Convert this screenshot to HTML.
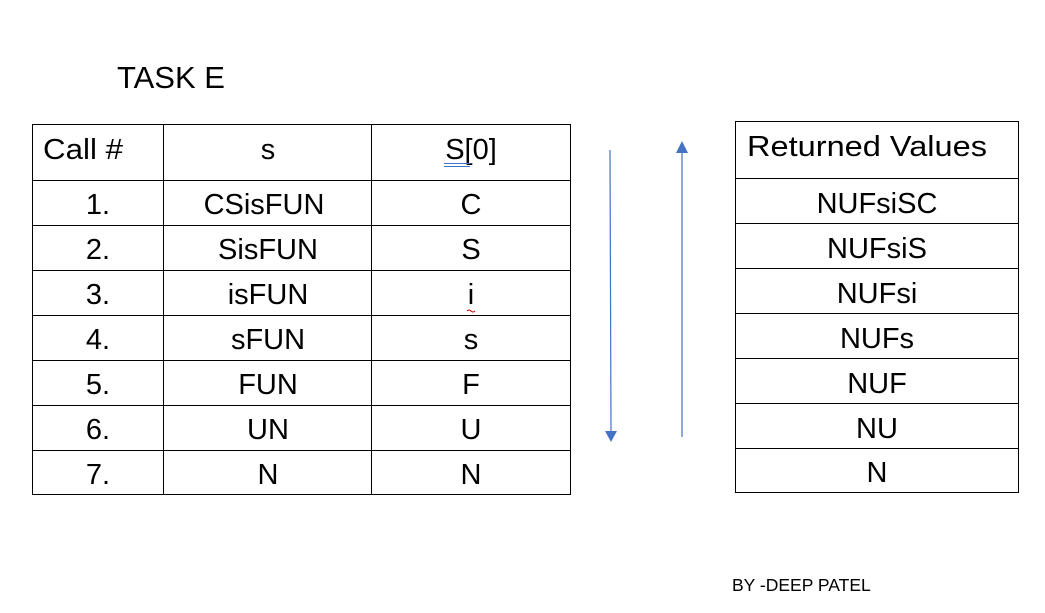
<!DOCTYPE html>
<html><head><style>
body{margin:0;width:1045px;height:613px;background:#fff;position:relative;overflow:hidden;font-family:"Liberation Sans",sans-serif;}
</style></head><body>
<svg width="1045" height="613" style="position:absolute;left:0;top:0" font-family="Liberation Sans, sans-serif">
<g stroke="#000" stroke-width="1" fill="none">
<rect x="32.5" y="124.5" width="538" height="370"/>
<line x1="163.5" y1="124" x2="163.5" y2="495"/>
<line x1="371.5" y1="124" x2="371.5" y2="495"/>
<line x1="32" y1="180.5" x2="571" y2="180.5"/>
<line x1="32" y1="225.5" x2="571" y2="225.5"/>
<line x1="32" y1="270.5" x2="571" y2="270.5"/>
<line x1="32" y1="315.5" x2="571" y2="315.5"/>
<line x1="32" y1="360.5" x2="571" y2="360.5"/>
<line x1="32" y1="405.5" x2="571" y2="405.5"/>
<line x1="32" y1="450.5" x2="571" y2="450.5"/>
<rect x="735.5" y="121.5" width="283" height="371"/>
<line x1="735" y1="178.5" x2="1019" y2="178.5"/>
<line x1="735" y1="223.5" x2="1019" y2="223.5"/>
<line x1="735" y1="268.5" x2="1019" y2="268.5"/>
<line x1="735" y1="313.5" x2="1019" y2="313.5"/>
<line x1="735" y1="358.5" x2="1019" y2="358.5"/>
<line x1="735" y1="403.5" x2="1019" y2="403.5"/>
<line x1="735" y1="448.5" x2="1019" y2="448.5"/>
</g>
<g stroke="#4472c4" stroke-width="1.2" fill="#4472c4">
<line x1="610" y1="150" x2="611" y2="432"/>
<polygon points="605,431 617,431 611,442" stroke="none"/>
<line x1="682" y1="152" x2="682" y2="437"/>
<polygon points="676,153 688,153 682,141" stroke="none"/>
</g>
<g font-size="29" fill="#000" text-anchor="middle">
<text x="117" y="88" text-anchor="start" font-size="31">TASK E</text>
<text x="43" y="159" text-anchor="start" textLength="80" lengthAdjust="spacingAndGlyphs">Call #</text>
<text x="268" y="159">s</text>
<text x="471" y="159">S[0]</text>
<text x="98" y="214">1.</text><text x="264" y="214">CSisFUN</text><text x="471" y="214">C</text>
<text x="98" y="259">2.</text><text x="268" y="259">SisFUN</text><text x="471" y="259">S</text>
<text x="98" y="304">3.</text><text x="268" y="304">isFUN</text><text x="471" y="304">i</text>
<text x="98" y="349">4.</text><text x="268" y="349">sFUN</text><text x="471" y="349">s</text>
<text x="98" y="394">5.</text><text x="268" y="394">FUN</text><text x="471" y="394">F</text>
<text x="98" y="439">6.</text><text x="268" y="439">UN</text><text x="471" y="439">U</text>
<text x="98" y="484">7.</text><text x="268" y="484">N</text><text x="471" y="484">N</text>
<text x="747" y="156" text-anchor="start" textLength="240" lengthAdjust="spacingAndGlyphs">Returned Values</text>
<text x="877" y="213">NUFsiSC</text>
<text x="877" y="258">NUFsiS</text>
<text x="877" y="303">NUFsi</text>
<text x="877" y="348">NUFs</text>
<text x="877" y="393">NUF</text>
<text x="877" y="438">NU</text>
<text x="877" y="482">N</text>
<text x="732" y="591" text-anchor="start" font-size="17.5">BY -DEEP PATEL</text>
</g>
<g stroke="#4472c4" stroke-width="1">
<line x1="444" y1="163.5" x2="470" y2="163.5"/><line x1="444" y1="166.5" x2="470" y2="166.5"/>
</g>
<path d="M467 311 q2 -2 4 0 t4 0" stroke="#c00" fill="none" stroke-width="1"/>
</svg>
</body></html>
